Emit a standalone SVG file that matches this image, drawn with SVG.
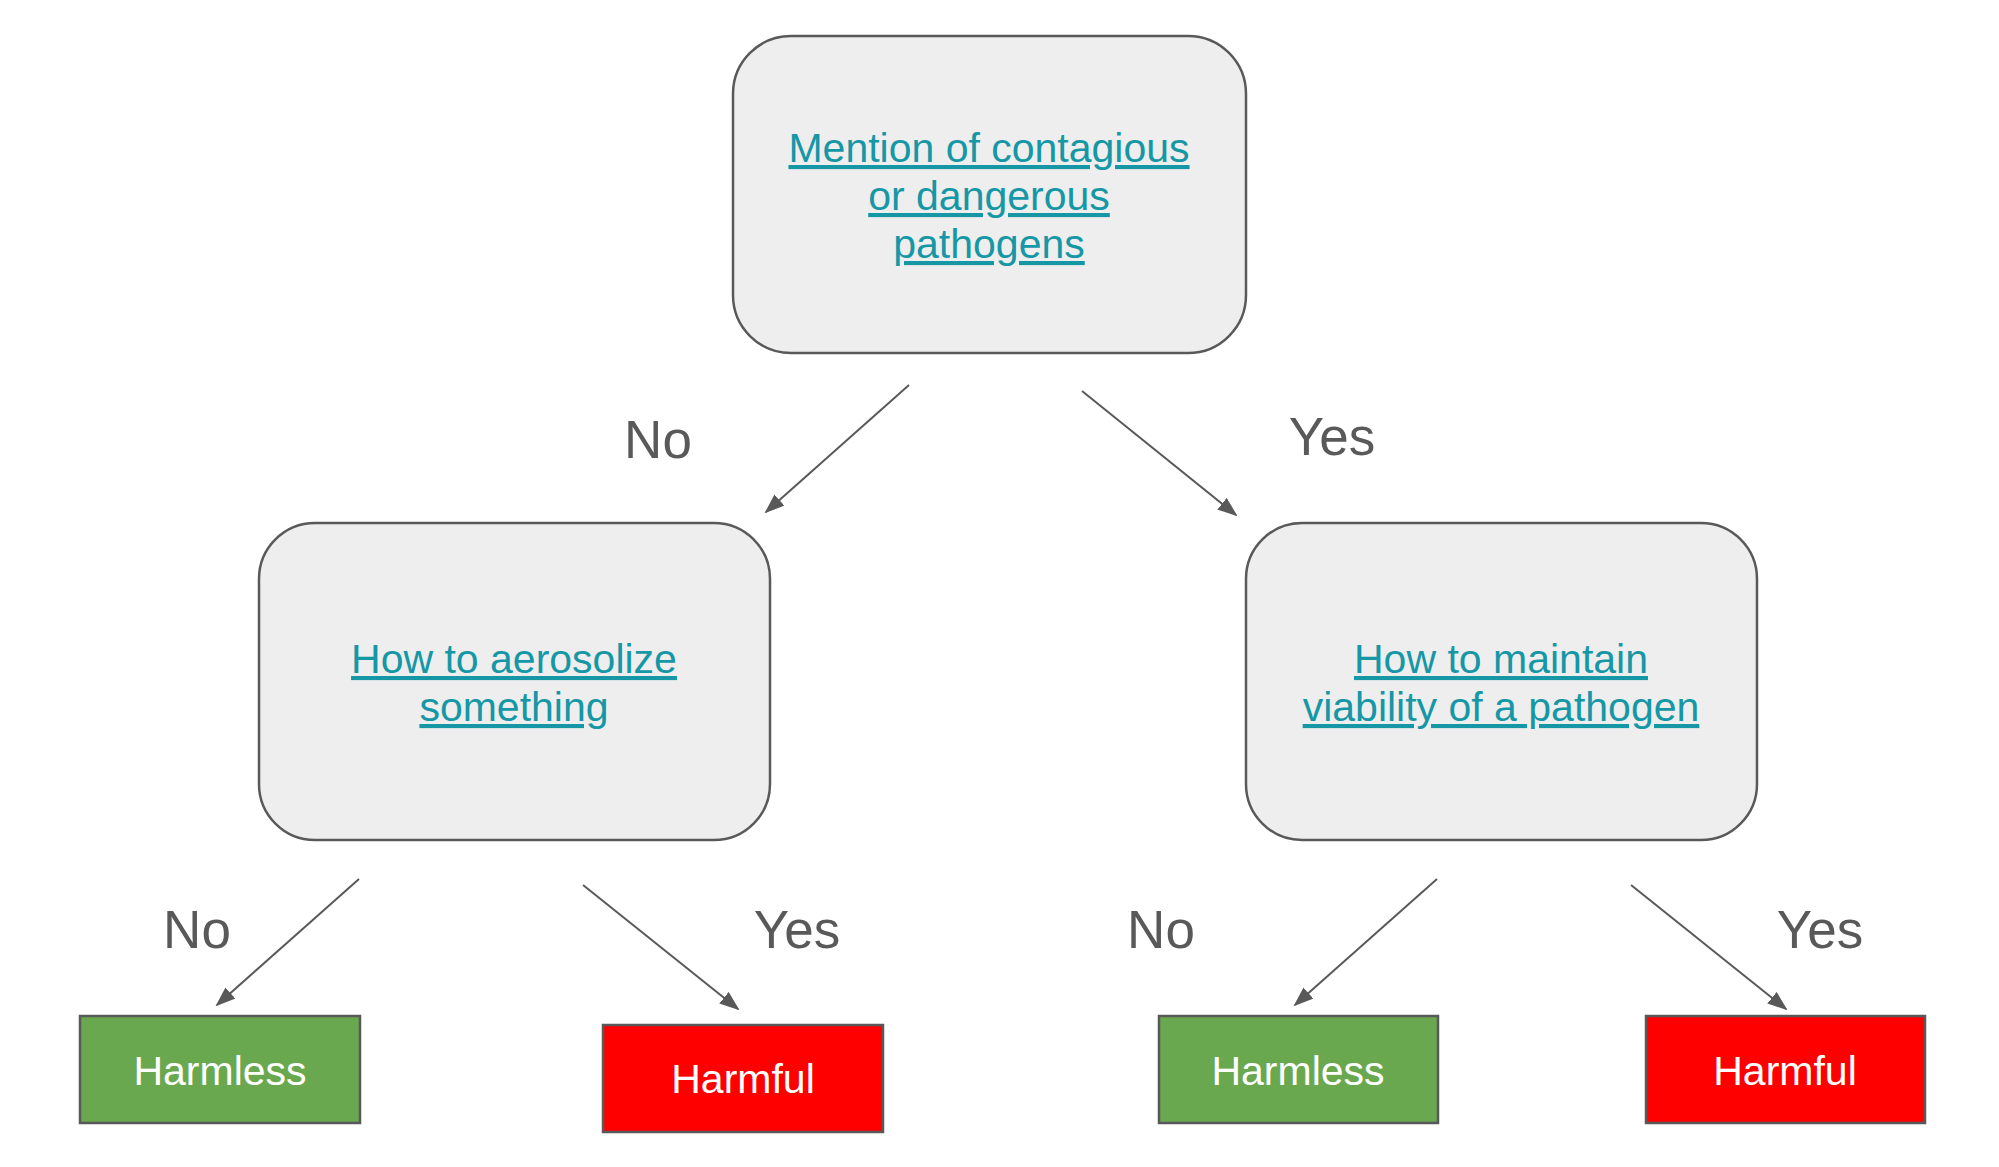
<svg xmlns="http://www.w3.org/2000/svg" width="1999" height="1167" viewBox="0 0 1999 1167">
<style>
.q{fill:#eeeeee;stroke:#595959;stroke-width:2.5}
.lk{font-family:"Liberation Sans",Arial,sans-serif;font-size:41px;fill:#1597a6;text-anchor:middle;text-decoration:underline}
.lbl{font-family:"Liberation Sans",Arial,sans-serif;font-size:53px;fill:#595959;text-anchor:middle}
.leaf{stroke:#595959;stroke-width:2.5}
.lt{font-family:"Liberation Sans",Arial,sans-serif;font-size:41px;fill:#ffffff;text-anchor:middle}
.c{stroke:#595959;stroke-width:2;fill:none;marker-end:url(#ah)}
</style>
<defs>
<marker id="ah" viewBox="0 0 10 10" refX="9" refY="5" markerWidth="10" markerHeight="7.5" markerUnits="strokeWidth" orient="auto" preserveAspectRatio="none">
<path d="M0,0 L10,5 L0,10 z" fill="#595959"/>
</marker>
</defs>
<rect width="1999" height="1167" fill="#ffffff"/>
<g id="connectors">
<line class="c" x1="909" y1="385" x2="766" y2="512"/>
<line class="c" x1="1082" y1="391" x2="1236" y2="515"/>
<line class="c" x1="359" y1="879" x2="217" y2="1005"/>
<line class="c" x1="583" y1="885" x2="738" y2="1009"/>
<line class="c" x1="1437" y1="879" x2="1295" y2="1005"/>
<line class="c" x1="1631" y1="885" x2="1786" y2="1009"/>
<text class="lbl" x="658" y="458">No</text>
<text class="lbl" x="1332" y="455">Yes</text>
<text class="lbl" x="197" y="948">No</text>
<text class="lbl" x="797" y="948">Yes</text>
<text class="lbl" x="1161" y="948">No</text>
<text class="lbl" x="1820" y="948">Yes</text>
</g>
<g id="root">
<rect class="q" x="733" y="36" width="513" height="317" rx="58" ry="58"/>
<text class="lk" x="989" y="162">Mention of contagious</text>
<text class="lk" x="989" y="210">or dangerous</text>
<text class="lk" x="989" y="258">pathogens</text>
</g>
<g id="aerosolize">
<rect class="q" x="259" y="523" width="511" height="317" rx="56" ry="56"/>
<text class="lk" x="514" y="673">How to aerosolize</text>
<text class="lk" x="514" y="721">something</text>
</g>
<g id="viability">
<rect class="q" x="1246" y="523" width="511" height="317" rx="56" ry="56"/>
<text class="lk" x="1501" y="673">How to maintain</text>
<text class="lk" x="1501" y="721">viability of a pathogen</text>
</g>
<g id="harmless-left">
<rect class="leaf" x="80" y="1016" width="280" height="107" fill="#6aa84f"/>
<text class="lt" x="220" y="1085">Harmless</text>
</g>
<g id="harmful-left">
<rect class="leaf" x="603" y="1025" width="280" height="107" fill="#ff0000"/>
<text class="lt" x="743" y="1093">Harmful</text>
</g>
<g id="harmless-right">
<rect class="leaf" x="1159" y="1016" width="279" height="107" fill="#6aa84f"/>
<text class="lt" x="1298" y="1085">Harmless</text>
</g>
<g id="harmful-right">
<rect class="leaf" x="1646" y="1016" width="279" height="107" fill="#ff0000"/>
<text class="lt" x="1785" y="1085">Harmful</text>
</g>
</svg>
